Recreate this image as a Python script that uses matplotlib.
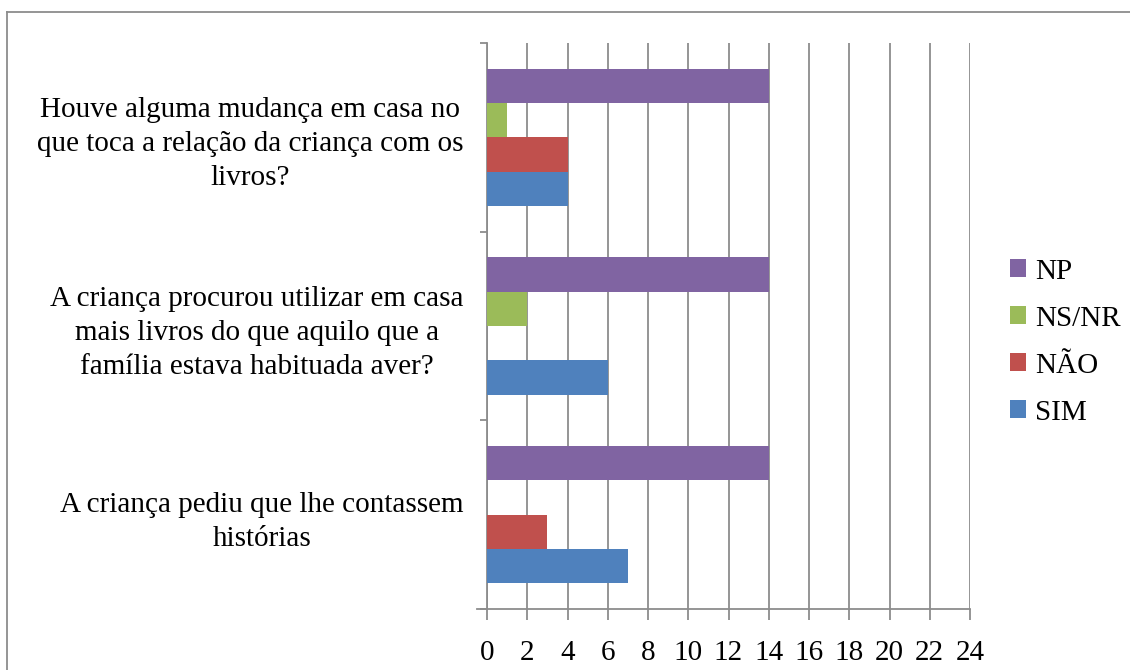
import matplotlib.pyplot as plt
import numpy as np
from matplotlib.lines import Line2D

categories = [
    "A criança pediu que lhe contassem\nhistórias",
    "A criança procurou utilizar em casa\nmais livros do que aquilo que a\nfamília estava habituada aver?",
    "Houve alguma mudança em casa no\nque toca a relação da criança com os\nlivros?",
]
series = ["SIM", "NÃO", "NS/NR", "NP"]
sim = [7, 6, 4]
nao = [3, 0, 4]
nsnr = [0, 2, 1]
np_vals = [14, 14, 14]
colors = ["#4F81BD", "#C0504D", "#9BBB59", "#8064A2"]
xticks = list(range(0, 25, 2))

plt.rcParams['font.family'] = ['Liberation Serif', 'DejaVu Serif']

W, H = 1130, 670
fig = plt.figure(figsize=(W / 100, H / 100), dpi=100)
ax = fig.add_axes([487 / W, 1 - 609 / H, (970 - 487) / W, (609 - 43) / H])

values = [sim, nao, nsnr, np_vals]
y = np.arange(len(categories))
bh = 0.182
offsets = (np.arange(4) - 1.5) * bh
for vals, off, c, name in zip(values, offsets, colors, series):
    ax.barh(y + off, vals, height=bh, color=c, label=name, zorder=3)

ax.set_xlim(0, 24)
ax.set_ylim(-0.5, len(categories) - 0.5)
ax.set_xticks(xticks)
ax.set_xticklabels([str(t) for t in xticks], fontsize=21)
ax.xaxis.grid(True, color='#8C8C8C', linewidth=1.3, zorder=0)
ax.tick_params(axis='x', direction='out', length=8, width=1.3, color='#8C8C8C', pad=14)

ax.set_yticks(y)
ax.set_yticklabels(categories, fontsize=21, multialignment='center', linespacing=1.4)
ax.tick_params(axis='y', length=0, pad=17)
# category boundary ticks
ax.set_yticks(np.arange(-0.5, len(categories), 1), minor=True)
ax.tick_params(axis='y', which='minor', direction='out', length=5, width=1.3, color='#8C8C8C')

for s in ['top', 'right']:
    ax.spines[s].set_visible(False)
for s in ['left', 'bottom']:
    ax.spines[s].set_color('#8C8C8C')
    ax.spines[s].set_linewidth(1.3)
ax.spines['bottom'].set_bounds(-0.5, 24)
ax.set_xlim(0, 24)

# legend
handles, labels = ax.get_legend_handles_labels()
leg = fig.legend(handles[::-1], labels[::-1], loc='center left',
                 bbox_to_anchor=(984 / W, 1 - 342 / H), frameon=False, fontsize=21,
                 handlelength=0.55, handleheight=0.55, handletextpad=0.3,
                 labelspacing=0.72)

# outer frame (left and top edges)
fig.add_artist(Line2D([7 / W, 7 / W], [0, 1 - 12 / H], color='#8C8C8C', lw=1.3,
                      transform=fig.transFigure))
fig.add_artist(Line2D([7 / W, 1], [1 - 12 / H, 1 - 12 / H], color='#8C8C8C', lw=1.3,
                      transform=fig.transFigure))

fig.savefig('out.png', dpi=100)
